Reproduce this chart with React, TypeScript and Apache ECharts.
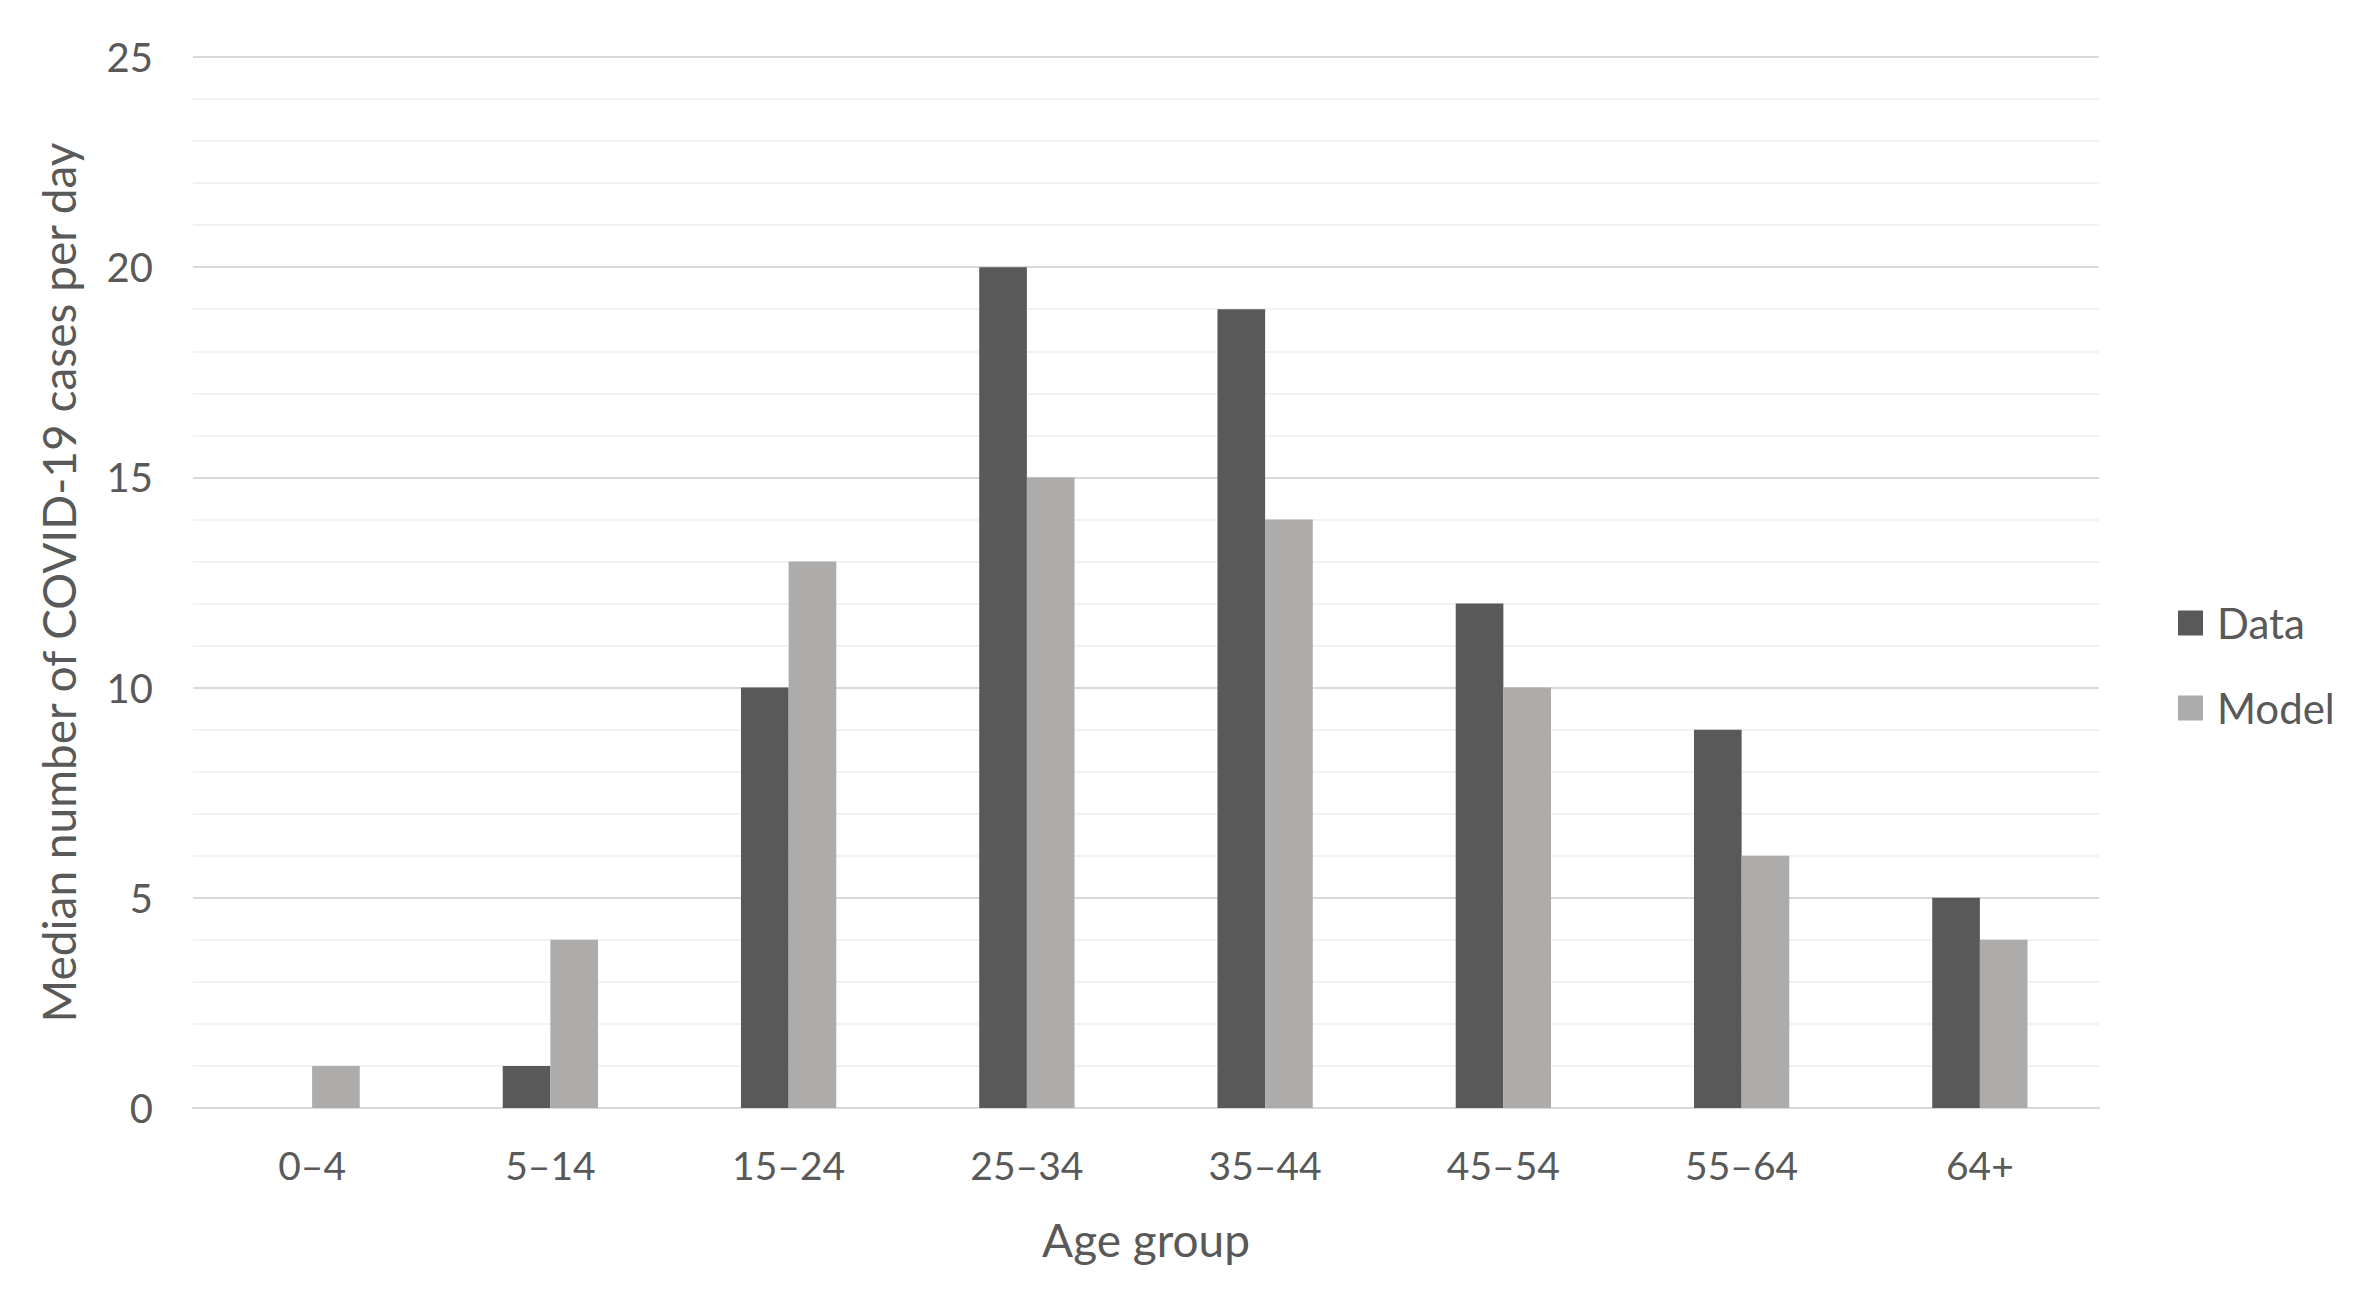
import React, { useEffect, useRef } from "react";
import * as echarts from "echarts";

const categories = ["0–4", "5–14", "15–24", "25–34", "35–44", "45–54", "55–64", "64+"];
const dataValues = [0, 1, 10, 20, 19, 12, 9, 5];
const modelValues = [1, 4, 13, 15, 14, 10, 6, 4];

const FONT = "Lato";
const TEXT = "#595959";

export default function App() {
  const ref = useRef<HTMLDivElement>(null);
  useEffect(() => {
    const chart = echarts.init(ref.current!, null, { renderer: "svg" });
    chart.setOption({
      animation: false,
      backgroundColor: "#ffffff",
      textStyle: { fontFamily: FONT, color: TEXT },
      grid: { left: 185, right: 258, top: 49, bottom: 182, containLabel: false },
      legend: {
        orient: "vertical",
        left: 2165,
        top: 589,
        itemWidth: 25,
        itemHeight: 25,
        itemGap: 43,
        icon: "rect",
        textStyle: { fontFamily: FONT, fontSize: 42, color: TEXT, padding: [0, 0, 0, 9] },
        data: ["Data", "Model"],
      },
      xAxis: {
        type: "category",
        data: categories,
        axisLine: { lineStyle: { color: "#D9D9D9", width: 2 } },
        axisTick: { show: false },
        axisLabel: { fontFamily: FONT, fontSize: 39, color: TEXT, margin: 37 },
        name: "Age group",
        nameLocation: "middle",
        nameGap: 108,
        nameTextStyle: { fontFamily: FONT, fontSize: 46, color: TEXT },
      },
      yAxis: {
        type: "value",
        min: 0,
        max: 25,
        interval: 5,
        axisLine: { show: false },
        axisTick: { show: false },
        minorTick: { show: false, splitNumber: 5 },
        minorSplitLine: { show: true, lineStyle: { color: "#F2F2F2", width: 2 } },
        splitLine: { lineStyle: { color: "#D9D9D9", width: 2 } },
        axisLabel: { fontFamily: FONT, fontSize: 40, color: TEXT, margin: 40 },
        name: "Median number of COVID-19 cases per day",
        nameLocation: "middle",
        nameGap: 112,
        nameTextStyle: { fontFamily: FONT, fontSize: 46, color: TEXT },
      },
      series: [
        {
          name: "Data",
          type: "bar",
          data: dataValues,
          barGap: "0%",
          barCategoryGap: "60%",
          itemStyle: { color: "#595959" },
        },
        {
          name: "Model",
          type: "bar",
          data: modelValues,
          itemStyle: { color: "#AEABAB" },
        },
      ],
    });
    return () => chart.dispose();
  }, []);
  return <div ref={ref} style={{ width: 2349, height: 1282 }} />;
}
